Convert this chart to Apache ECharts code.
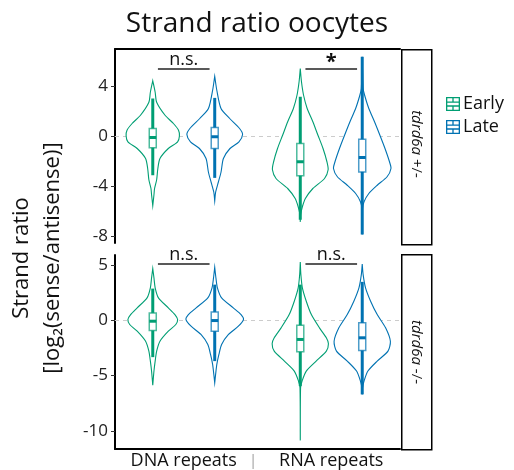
<!DOCTYPE html>
<html lang="en">

<head>
    <meta charset="UTF-8">
    <title>Strand ratio oocytes</title>
    <script src="https://cdn.jsdelivr.net/npm/echarts@6/dist/echarts.min.js"></script>
    <style>
        body {
            margin: 0;
            padding: 0;
            background: #fff;
        }

        #chart {
            width: 514px;
            height: 470px;
        }
    </style>
</head>

<body>
    <div id="chart"></div>

    <script>
        // categories / groups / facets
        const categories = ['DNA repeats', 'RNA repeats'];
        const groups = ['Early', 'Late'];
        const hetTicks = [-8, -4, 0, 4];
        const mutTicks = [-10, -5, 0, 5];

        // violin outlines: [value, relative density]
        const hetEarlyDNA = [[4.42, 0], [3.5, 0.08], [2.7, 0.13], [1.66, 0.41], [1.0, 0.69], [0.46, 0.86], [0, 0.89], [-0.47, 0.83], [-1.0, 0.52], [-1.8, 0.24], [-2.6, 0.17], [-3.5, 0.13], [-4.2, 0.06], [-4.7, 0.04], [-5.58, 0]];
        const hetLateDNA = [[4.78, 0], [3.66, 0.07], [2.2, 0.21], [1.4, 0.5], [0.6, 0.83], [0.12, 0.93], [-0.47, 0.81], [-1.0, 0.51], [-1.8, 0.29], [-2.9, 0.21], [-3.7, 0.12], [-4.5, 0.03], [-5.2, 0]];
        const hetEarlyRNA = [[5.4, 0], [4.34, 0.04], [3.26, 0.11], [2.2, 0.23], [1.14, 0.42], [0.06, 0.59], [-1.0, 0.76], [-2.06, 0.89], [-2.7, 0.93], [-3.4, 0.81], [-4.2, 0.42], [-5.0, 0.17], [-5.66, 0.07], [-6.3, 0.01], [-6.87, 0]];
        const hetLateRNA = [[6.34, 0], [3.8, 0.03], [3.26, 0.08], [2.2, 0.22], [1.14, 0.41], [0.06, 0.59], [-1.0, 0.76], [-2.06, 0.91], [-2.6, 0.96], [-3.26, 0.83], [-3.94, 0.5], [-4.6, 0.22], [-5.26, 0.06], [-5.8, 0.01], [-7.88, 0]];
        const mutEarlyDNA = [[4.67, 0], [3.83, 0.04], [2.93, 0.08], [2.02, 0.19], [1.12, 0.52], [0.51, 0.74], [0.06, 0.83], [-0.39, 0.77], [-0.99, 0.52], [-1.9, 0.24], [-2.8, 0.13], [-3.7, 0.08], [-4.6, 0.04], [-5.87, 0]];
        const mutLateDNA = [[4.79, 0], [3.83, 0.04], [2.93, 0.09], [2.02, 0.23], [1.12, 0.62], [0.51, 0.88], [0.06, 0.96], [-0.54, 0.79], [-1.29, 0.46], [-2.2, 0.23], [-3.1, 0.14], [-4.0, 0.07], [-4.9, 0.03], [-5.66, 0]];
        const mutEarlyRNA = [[5.27, 0], [4.13, 0.02], [2.93, 0.07], [1.72, 0.2], [0.51, 0.37], [-0.69, 0.64], [-1.59, 0.87], [-2.13, 0.94], [-2.8, 0.87], [-3.7, 0.53], [-4.6, 0.2], [-5.5, 0.06], [-6.1, 0.01], [-10.87, 0]];
        const mutLateRNA = [[5.09, 0], [4.13, 0.03], [2.93, 0.11], [1.72, 0.28], [0.51, 0.5], [-0.69, 0.78], [-1.9, 0.94], [-2.8, 0.86], [-3.7, 0.5], [-4.6, 0.19], [-5.5, 0.06], [-6.1, 0.01], [-6.71, 0]];

        // box stats per category: [lower whisker, q1, median, q3, upper whisker]
        const hetEarlyBox = [[-3.14, -0.94, -0.12, 0.6, 3.0], [-6.7, -3.18, -2.06, -0.6, 3.14]];
        const hetLateBox = [[-3.35, -1.0, -0.06, 0.68, 3.05], [-7.88, -2.87, -1.72, -0.26, 6.34]];
        const mutEarlyBox = [[-3.34, -0.93, -0.09, 0.66, 2.86], [-5.96, -2.86, -1.74, -0.45, 3.22]];
        const mutLateBox = [[-3.7, -0.99, -0.03, 0.75, 3.22], [-6.71, -2.74, -1.59, -0.24, 3.47]];

        // significance labels
        const hetSig = ['n.s.', '*'];
        const mutSig = ['n.s.', 'n.s.'];

        const FONT = '"Open Sans", sans-serif';
        const GREEN = '#009E73';
        const BLUE = '#0072B2';
        const BOX_GREEN = 'rgba(0,158,115,0.7)';
        const BOX_BLUE = 'rgba(0,114,178,0.7)';
        const DODGE = 0.21;
        const WIDTH_SCALE = 0.203;
        const BOX_HALF = 3.5;

        // legend glyph: box with lines, holes cut out
        const legendIcon = 'path://M0 0H16V16H0Z' +
            'M1.5 1.5V5H7.25V1.5Z M8.75 1.5V5H14.5V1.5Z' +
            'M1.5 6.5V9.5H14.5V6.5Z' +
            'M1.5 11V14.5H7.25V11Z M8.75 11V14.5H14.5V11Z';

        const chart = echarts.init(document.getElementById('chart'));

        function violinSeries(name, color, boxColor, grid, offset, profiles, boxes) {
            return {
                type: 'custom',
                name: name,
                xAxisIndex: grid,
                yAxisIndex: grid,
                z: 5,
                silent: true,
                itemStyle: { color: color },
                data: categories.map((c, i) => [i + 1, 0]),
                encode: { x: 0, y: 1 },
                renderItem: function (params, api) {
                    const i = params.dataIndex;
                    const xc = i + 1 + offset;
                    const prof = profiles[i];
                    const right = prof.map(p => api.coord([xc + p[1] * WIDTH_SCALE, p[0]]));
                    const left = prof.slice().reverse().map(p => api.coord([xc - p[1] * WIDTH_SCALE, p[0]]));
                    const b = boxes[i];
                    const cx = api.coord([xc, 0])[0];
                    const yy = b.map(v => api.coord([xc, v])[1]);
                    return {
                        type: 'group',
                        children: [
                            {
                                type: 'polygon',
                                shape: { points: right.concat(left), smooth: 0.25 },
                                style: { fill: '#fff', stroke: color, lineWidth: 1.1 }
                            },
                            {
                                type: 'line',
                                shape: { x1: cx, y1: yy[4], x2: cx, y2: yy[0] },
                                style: { stroke: color, lineWidth: 3 }
                            },
                            {
                                type: 'rect',
                                shape: { x: cx - BOX_HALF, y: yy[3], width: BOX_HALF * 2, height: yy[1] - yy[3] },
                                style: { fill: '#fff', stroke: boxColor, lineWidth: 1.5 }
                            },
                            {
                                type: 'line',
                                shape: { x1: cx - BOX_HALF, y1: yy[2], x2: cx + BOX_HALF, y2: yy[2] },
                                style: { stroke: color, lineWidth: 3 }
                            }
                        ]
                    };
                }
            };
        }

        function sigSeries(grid, labels, level) {
            return {
                type: 'custom',
                xAxisIndex: grid,
                yAxisIndex: grid,
                z: 6,
                clip: false,
                silent: true,
                data: labels.map((l, i) => [i + 1, level]),
                encode: { x: 0, y: 1 },
                renderItem: function (params, api) {
                    const i = params.dataIndex;
                    const p1 = api.coord([i + 1 - 0.175, level]);
                    const p2 = api.coord([i + 1 + 0.175, level]);
                    const star = labels[i] === '*';
                    return {
                        type: 'group',
                        children: [
                            {
                                type: 'line',
                                shape: { x1: p1[0], y1: p1[1], x2: p2[0], y2: p2[1] },
                                style: { stroke: '#222', lineWidth: 1.5 }
                            },
                            {
                                type: 'text',
                                x: (p1[0] + p2[0]) / 2,
                                y: p1[1] - (star ? -3 : 0),
                                style: {
                                    text: labels[i], align: 'center', verticalAlign: 'bottom',
                                    fontSize: star ? 20 : 18, fontWeight: star ? 'bold' : 'normal',
                                    fill: '#111', fontFamily: FONT
                                }
                            }
                        ]
                    };
                }
            };
        }

        function zeroLine(grid) {
            return {
                type: 'line',
                xAxisIndex: grid,
                yAxisIndex: grid,
                data: [],
                z: 1,
                silent: true,
                markLine: {
                    silent: true,
                    symbol: 'none',
                    label: { show: false },
                    lineStyle: { type: [4, 4], color: '#cccccc', width: 1 },
                    data: [{ yAxis: 0 }]
                }
            };
        }

        function xAxisFor(grid, pos, showLabels) {
            return {
                type: 'value',
                gridIndex: grid,
                position: pos,
                min: 0.534,
                max: 2.466,
                splitLine: { show: false },
                axisLine: { show: true, onZero: false, lineStyle: { color: '#000', width: 2 } },
                axisTick: { show: false },
                axisLabel: {
                    show: showLabels,
                    customValues: [1, 2],
                    formatter: v => categories[Math.round(v) - 1] || '',
                    fontSize: 18,
                    color: '#111',
                    fontFamily: FONT,
                    margin: 3
                }
            };
        }

        function yAxisFor(grid, min, max, ticks) {
            return {
                type: 'value',
                gridIndex: grid,
                min: min,
                max: max,
                splitLine: { show: false },
                axisLine: { show: true, onZero: false, lineStyle: { color: '#000', width: 2 } },
                axisTick: { show: true, customValues: ticks, length: 4, lineStyle: { color: '#333' } },
                axisLabel: { customValues: ticks, fontSize: 17, color: '#222', fontFamily: FONT, margin: 7 }
            };
        }

        const option = {
            animation: false,
            title: {
                text: 'Strand ratio oocytes',
                left: 'center',
                top: 5,
                textStyle: { fontSize: 28, fontWeight: 'normal', color: '#111', fontFamily: FONT }
            },
            legend: {
                orient: 'vertical',
                left: 441,
                top: 90,
                itemWidth: 14,
                itemHeight: 14,
                itemGap: 5,
                icon: legendIcon,
                data: groups,
                textStyle: { fontSize: 18, color: '#111', fontFamily: FONT, padding: [0, 0, 0, -2] }
            },
            grid: [
                { left: 115, top: 49, width: 285, height: 194 },
                { left: 115, top: 255, width: 285, height: 194 }
            ],
            xAxis: [xAxisFor(0, 'top', false), xAxisFor(1, 'bottom', true)],
            yAxis: [yAxisFor(0, -8.56, 6.96, hetTicks), yAxisFor(1, -11.65, 5.9, mutTicks)],
            graphic: [
                {
                    type: 'rect', left: 401, top: 49,
                    shape: { width: 30, height: 195 },
                    style: { fill: '#fff', stroke: '#000', lineWidth: 1.5 }
                },
                {
                    type: 'rect', left: 401, top: 254,
                    shape: { width: 30, height: 195 },
                    style: { fill: '#fff', stroke: '#000', lineWidth: 1.5 }
                },
                {
                    type: 'text', x: 416, y: 144, rotation: -Math.PI / 2,
                    style: {
                        text: '{i|tdrd6a} +/-', align: 'center', verticalAlign: 'middle',
                        fontSize: 15, fill: '#111', fontFamily: FONT,
                        rich: { i: { fontStyle: 'italic', fontSize: 15, fontFamily: FONT } }
                    }
                },
                {
                    type: 'text', x: 416, y: 352, rotation: -Math.PI / 2,
                    style: {
                        text: '{i|tdrd6a} -/-', align: 'center', verticalAlign: 'middle',
                        fontSize: 15, fill: '#111', fontFamily: FONT,
                        rich: { i: { fontStyle: 'italic', fontSize: 15, fontFamily: FONT } }
                    }
                },
                {
                    type: 'text', x: 37, y: 258, rotation: Math.PI / 2,
                    style: {
                        text: 'Strand ratio\n[log₂(sense/antisense)]', align: 'center', verticalAlign: 'middle',
                        fontSize: 22, lineHeight: 31, fill: '#111', fontFamily: FONT
                    }
                },
                {
                    type: 'text', x: 253, y: 461,
                    style: { text: '|', align: 'center', verticalAlign: 'middle', fontSize: 14, fill: '#999', fontFamily: FONT }
                }
            ],
            series: [
                zeroLine(0),
                zeroLine(1),
                violinSeries('Early', GREEN, BOX_GREEN, 0, -DODGE, [hetEarlyDNA, hetEarlyRNA], hetEarlyBox),
                violinSeries('Late', BLUE, BOX_BLUE, 0, DODGE, [hetLateDNA, hetLateRNA], hetLateBox),
                violinSeries('Early', GREEN, BOX_GREEN, 1, -DODGE, [mutEarlyDNA, mutEarlyRNA], mutEarlyBox),
                violinSeries('Late', BLUE, BOX_BLUE, 1, DODGE, [mutLateDNA, mutLateRNA], mutLateBox),
                sigSeries(0, hetSig, 5.36),
                sigSeries(1, mutSig, 5.09)
            ]
        };

        chart.setOption(option);

        window.addEventListener('resize', function () {
            chart.resize();
        });
    </script>
</body>

</html>
